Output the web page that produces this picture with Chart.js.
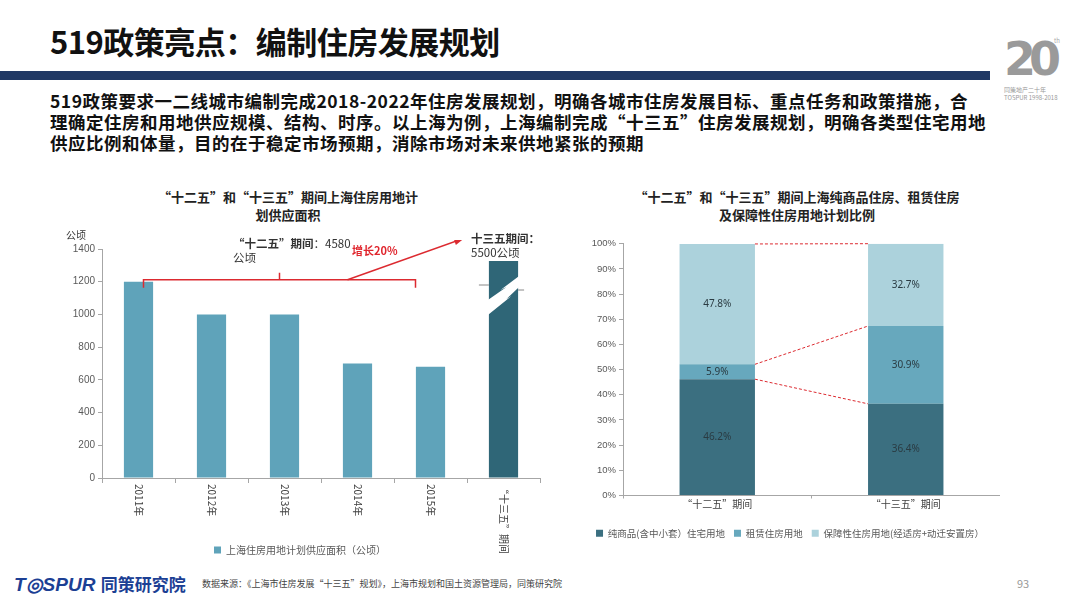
<!DOCTYPE html>
<html>
<head>
<meta charset="utf-8">
<script src="https://cdn.jsdelivr.net/npm/chart.js@4.4.0/dist/chart.umd.min.js"></script>
<style>
  body { margin: 0; background: #fff; font-family: "Noto Sans CJK SC", "Noto Sans", sans-serif; }
  #page { position: relative; width: 1080px; height: 608px; overflow: hidden; background: #fff; }
  .abs { position: absolute; white-space: nowrap; }
  #title { left: 50px; top: 18px; font-size: 31px; font-weight: bold; color: #111; letter-spacing: -0.5px; }
  #bar { left: 0; top: 71px; width: 990px; height: 9px; background: #203864; }
  #lead { left: 50px; top: 90px; font-size: 17.5px; font-weight: bold; color: #111; line-height: 21px; letter-spacing: 0.5px; }
  #logo20 { left: 1004px; top: 32px; font-size: 46px; font-weight: bold; color: #9a9a9a; font-family: "DejaVu Sans"; letter-spacing: -7px; }
  #logo20th { left: 1054px; top: 36px; font-size: 6px; color: #aaa; }
  #logo20s { left: 1004px; top: 86px; font-size: 6px; color: #999; line-height: 8px; }
  .ctitle { font-size: 13px; font-weight: bold; color: #222; text-align: center; line-height: 18px; }
  #t1 { left: 148px; top: 188px; width: 280px; }
  #t2 { left: 617px; top: 188px; width: 360px; }
  #canvasL { position: absolute; left: 60px; top: 240px; }
  #canvasR { position: absolute; left: 580px; top: 235px; }
  .note { font-size: 11.5px; color: #333; line-height: 14px; }
  #footLogo { left: 14px; top: 571px; font-size: 19px; font-weight: bold; font-style: italic; color: #1c3f94; font-family: "Liberation Sans"; }
  #footLogo span { font-family: "Noto Sans CJK SC"; font-style: normal; font-size: 17px; }
  #source { left: 202px; top: 577px; font-size: 9px; color: #444; }
  #pageNo { left: 1017px; top: 575px; font-size: 11px; color: #999; }
</style>
</head>
<body>
<div id="page">
  <div class="abs" id="title">519政策亮点：编制住房发展规划</div>
  <div class="abs" id="bar"></div>
  <div class="abs" id="logo20">20</div>
  <div class="abs" id="logo20th">th</div>
  <div class="abs" id="logo20s">同策地产二十年<br>TOSPUR 1998-2018</div>
  <div class="abs" id="lead">519政策要求一二线城市编制完成2018-2022年住房发展规划，明确各城市住房发展目标、重点任务和政策措施，合<br>理确定住房和用地供应规模、结构、时序。以上海为例，上海编制完成“十三五”住房发展规划，明确各类型住宅用地<br>供应比例和体量，目的在于稳定市场预期，消除市场对未来供地紧张的预期</div>

  <div class="abs ctitle" id="t1">“十二五”和“十三五”期间上海住房用地计<br>划供应面积</div>
  <div class="abs ctitle" id="t2">“十二五”和“十三五”期间上海纯商品住房、租赁住房<br>及保障性住房用地计划比例</div>

  <canvas id="canvasL" width="500" height="325"></canvas>
  <canvas id="canvasR" width="420" height="313"></canvas>

  <div class="abs note" style="left:66px;top:228px;font-size:10px;">公顷</div>
  <div class="abs note" style="left:233px;top:236px;"><b>“十二五”期间</b>：4580<br>公顷</div>
  <div class="abs note" style="left:352px;top:243px;color:#e0252d;font-weight:bold;font-size:11px;">增长20%</div>
  <div class="abs note" style="left:471px;top:231px;"><b>十三五期间：</b><br>5500公顷</div>

  <div class="abs" id="footLogo">T◎SPUR <span>同策研究院</span></div>
  <div class="abs" id="source">数据来源：《上海市住房发展“十三五”规划》，上海市规划和国土资源管理局，同策研究院</div>
  <div class="abs" id="pageNo">93</div>
</div>

<script>
// 左图：住房用地计划供应面积
const years = ['2011年', '2012年', '2013年', '2014年', '2015年', '“十三五”期间'];
const supplyArea = [1200, 1000, 1000, 700, 680, 5500];
const areaTicks = [0, 200, 400, 600, 800, 1000, 1200, 1400];

// 右图：各类住房用地比例
const periods = ['“十二五”期间', '“十三五”期间'];
const commercialShare = [46.2, 36.4];
const rentalShare = [5.9, 30.9];
const affordableShare = [47.8, 32.7];
const shareTicks = [0, 10, 20, 30, 40, 50, 60, 70, 80, 90, 100];

const axisGrey = '#a6a6a6';
const tickGrey = '#595959';
const red = '#dc2a30';

// 旋转的x轴标签 + 断轴 + 红色标注
const leftExtras = {
    id: 'leftExtras',
    afterDatasetsDraw(chart) {
        const ctx = chart.ctx;
        const x = chart.scales.x;
        const y = chart.scales.y;
        const bars = chart.getDatasetMeta(0).data;

        // 断轴符号（闪电形）
        const last = bars[bars.length - 1];
        const l = last.x - last.width / 2, r = last.x + last.width / 2, m = last.x;
        const t = y.top;
        ctx.save();
        ctx.fillStyle = '#fff';
        ctx.beginPath();
        ctx.moveTo(l - 1, t + 51);
        ctx.lineTo(m + 3, t + 38);
        ctx.lineTo(m - 3, t + 41);
        ctx.lineTo(r + 1, t + 27);
        ctx.lineTo(r + 1, t + 38);
        ctx.lineTo(m + 3, t + 50);
        ctx.lineTo(m + 8, t + 47);
        ctx.lineTo(l - 1, t + 66);
        ctx.closePath();
        ctx.fill();
        ctx.strokeStyle = '#888';
        ctx.lineWidth = 1;
        ctx.beginPath();
        ctx.moveTo(l - 10, t + 36);
        ctx.lineTo(l, t + 36);
        ctx.moveTo(r, t + 41);
        ctx.lineTo(r + 6, t + 41);
        ctx.stroke();

        // 括号
        const by = y.getPixelForValue(1200) - 2;
        const bx0 = bars[0].x + 5, bx1 = bars[4].x - 15;
        ctx.strokeStyle = red;
        ctx.lineWidth = 1.5;
        ctx.beginPath();
        ctx.moveTo(bx0, by + 8);
        ctx.lineTo(bx0, by);
        ctx.lineTo(bx1, by);
        ctx.lineTo(bx1, by + 8);
        ctx.moveTo((bx0 + bx1) / 2, by);
        ctx.lineTo((bx0 + bx1) / 2, by - 7);
        ctx.stroke();

        // 箭头
        const ax0 = bars[3].x - 10, ay0 = by;
        const ax1 = last.x - 42, ay1 = y.getPixelForValue(1460);
        ctx.beginPath();
        ctx.moveTo(ax0, ay0);
        ctx.lineTo(ax1, ay1);
        ctx.stroke();
        const ang = Math.atan2(ay1 - ay0, ax1 - ax0);
        ctx.fillStyle = red;
        ctx.beginPath();
        ctx.moveTo(ax1 + 3, ay1 - 1);
        ctx.lineTo(ax1 - 8 * Math.cos(ang - 0.45), ay1 - 8 * Math.sin(ang - 0.45));
        ctx.lineTo(ax1 - 8 * Math.cos(ang + 0.45), ay1 - 8 * Math.sin(ang + 0.45));
        ctx.closePath();
        ctx.fill();

        // x轴标签（顺时针旋转）
        ctx.fillStyle = '#404040';
        ctx.font = '10px "Noto Sans CJK SC"';
        ctx.textBaseline = 'middle';
        ctx.textAlign = 'left';
        years.forEach((lab, i) => {
            const px = x.getPixelForValue(i);
            ctx.save();
            ctx.translate(px, y.bottom + 6);
            ctx.rotate(Math.PI / 2);
            ctx.fillText(lab, 0, 0);
            ctx.restore();
        });
        ctx.restore();
    }
};

new Chart(document.getElementById('canvasL'), {
    type: 'bar',
    data: {
        labels: years,
        datasets: [{
            label: '上海住房用地计划供应面积（公顷）',
            data: supplyArea,
            backgroundColor: ['#5fa3ba', '#5fa3ba', '#5fa3ba', '#5fa3ba', '#5fa3ba', '#2f6677'],
            categoryPercentage: 1,
            barPercentage: 0.4,
            clip: { left: 0, top: -12, right: 0, bottom: 0 }
        }]
    },
    options: {
        responsive: false,
        animation: false,
        layout: { padding: { top: 8, right: 20 } },
        scales: {
            x: {
                grid: { display: true, drawOnChartArea: false, tickLength: 5, color: axisGrey, offset: true },
                border: { color: axisGrey },
                ticks: { display: false },
                afterFit: (s) => { s.height = 61; }
            },
            y: {
                min: 0,
                max: 1400,
                afterBuildTicks: (s) => { s.ticks = areaTicks.map(v => ({ value: v })); },
                grid: { drawOnChartArea: false, tickLength: 4, color: axisGrey },
                border: { color: axisGrey },
                ticks: { color: tickGrey, font: { size: 10 }, padding: 3, callback: (v) => String(v) },
                afterFit: (s) => { s.width = 42; }
            }
        },
        plugins: {
            legend: {
                position: 'bottom',
                labels: { boxWidth: 7, boxHeight: 7, color: tickGrey, font: { size: 10, family: 'Noto Sans CJK SC' }, padding: 6 }
            },
            tooltip: { enabled: false }
        }
    },
    plugins: [leftExtras]
});

// 右图：数值标签 + 红色虚线
const rightExtras = {
    id: 'rightExtras',
    afterDatasetsDraw(chart) {
        const ctx = chart.ctx;
        ctx.save();
        ctx.font = '10px "Noto Sans"';
        ctx.fillStyle = '#2a3b42';
        ctx.textAlign = 'center';
        ctx.textBaseline = 'middle';
        chart.data.datasets.forEach((ds, di) => {
            chart.getDatasetMeta(di).data.forEach((el, i) => {
                ctx.fillText(ds.data[i].toFixed(1) + '%', el.x, (el.y + el.base) / 2);
            });
        });
        ctx.strokeStyle = red;
        ctx.lineWidth = 1;
        ctx.setLineDash([3, 2]);
        [0, 1, 2].forEach(di => {
            const els = chart.getDatasetMeta(di).data;
            const a = els[0], b = els[1];
            ctx.beginPath();
            ctx.moveTo(a.x + a.width / 2, a.y);
            ctx.lineTo(b.x - b.width / 2, b.y);
            ctx.stroke();
        });
        ctx.restore();
    }
};

new Chart(document.getElementById('canvasR'), {
    type: 'bar',
    data: {
        labels: periods,
        datasets: [
            { label: '纯商品(含中小套）住宅用地', data: commercialShare, backgroundColor: '#3b6f80' },
            { label: '租赁住房用地', data: rentalShare, backgroundColor: '#67a8bd' },
            { label: '保障性住房用地(经适房+动迁安置房）', data: affordableShare, backgroundColor: '#acd2dc' }
        ]
    },
    options: {
        responsive: false,
        animation: false,
        datasets: { bar: { categoryPercentage: 1, barPercentage: 0.4 } },
        layout: { padding: { top: 8, right: 0 } },
        scales: {
            x: {
                stacked: true,
                grid: { display: true, drawOnChartArea: false, tickLength: 3, color: axisGrey, offset: true },
                border: { color: axisGrey },
                ticks: { color: '#404040', font: { size: 10, family: 'Noto Sans CJK SC' }, padding: 0 },
                afterFit: (s) => { s.height = 24; }
            },
            y: {
                stacked: true,
                min: 0,
                max: 100,
                afterBuildTicks: (s) => { s.ticks = shareTicks.map(v => ({ value: v })); },
                grid: { drawOnChartArea: false, tickLength: 4, color: axisGrey },
                border: { color: axisGrey },
                ticks: { color: tickGrey, font: { size: 9.5 }, padding: 3, callback: (v) => v + '%' },
                afterFit: (s) => { s.width = 43; }
            }
        },
        plugins: {
            legend: {
                position: 'bottom',
                labels: { boxWidth: 7, boxHeight: 7, color: tickGrey, font: { size: 9.5, family: 'Noto Sans CJK SC' }, padding: 9 }
            },
            tooltip: { enabled: false }
        }
    },
    plugins: [rightExtras]
});
</script>
</body>
</html>
